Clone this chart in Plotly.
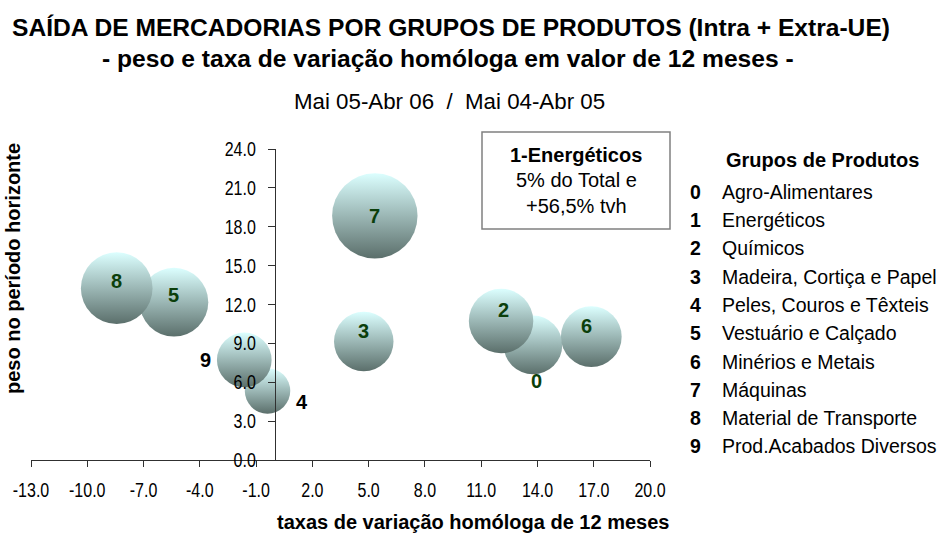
import plotly.graph_objects as go

# ---- data ----
grupos = ["0", "1", "2", "3", "4", "5", "6", "7", "8", "9"]
nomes = ["Agro-Alimentares", "Energéticos", "Químicos", "Madeira, Cortiça e Papel",
         "Peles, Couros e Têxteis", "Vestuário e Calçado", "Minérios e Metais",
         "Máquinas", "Material de Transporte", "Prod.Acabados Diversos"]
tvh = [13.76, 56.5, 12.06, 4.74, -0.39, -5.38, 16.87, 5.33, -8.43, -1.63]
peso = [8.88, 5.0, 10.73, 9.14, 5.33, 12.18, 9.52, 18.84, 13.26, 7.72]
x_ticks = [-13, -10, -7, -4, -1, 2, 5, 8, 11, 14, 17, 20]
x_tick_labels = ["-13.0", "-10.0", "-7.0", "-4.0", "-1.0", "2.0", "5.0", "8.0",
                 "11.0", "14.0", "17.0", "20.0"]
y_ticks = [0, 3, 6, 9, 12, 15, 18, 21, 24]
y_tick_labels = ["0.0", "3.0", "6.0", "9.0", "12.0", "15.0", "18.0", "21.0", "24.0"]

# ---- styling / layout constants ----
W, H = 941, 535
L, R, T, B = 31, 291, 149, 75
PW, PH = W - L - R, H - T - B

def px(xp):
    return (xp - L) / PW

def py(yp):
    return (H - B - yp) / PH

# label offsets in pixels (dx right, dy down) and colours, per group
lab_dx = [4, 0, 2, 0, 34, 0, -5, 0, 0, -39]
lab_dy = [36, 0, -11, -11, 11, -7, -11, 0, -7, 0]
lab_col = ["#0b3f0b", None, "#0b3f0b", "#0b3f0b", "#000000", "#0b3f0b",
           "#0b3f0b", "#0b3f0b", "#0b3f0b", "#000000"]

SANS = "Liberation Sans, Arial, sans-serif"
NARROW = "Liberation Sans Narrow, Arial Narrow, Liberation Sans, Arial, sans-serif"

fig = go.Figure()
fig.add_trace(go.Scatter(
    x=tvh, y=peso, mode="markers",
    marker=dict(size=peso, sizemode="area", sizeref=1 / (2 * 9.84 ** 2),
                color="#dcffff", line=dict(width=0),
                gradient=dict(type="vertical", color="#5b6f6b"),
                opacity=1),
    cliponaxis=True, hoverinfo="skip", showlegend=False,
))

annotations = []
for i, g in enumerate(grupos):
    if lab_col[i] is None:
        continue
    annotations.append(dict(
        x=tvh[i], y=peso[i], xref="x", yref="y", text="<b>%s</b>" % g,
        showarrow=False, xshift=lab_dx[i], yshift=-lab_dy[i],
        font=dict(family=SANS, size=20, color=lab_col[i]),
        xanchor="center", yanchor="middle"))

# titles
annotations += [
    dict(x=px(451), y=py(28), xref="paper", yref="paper", showarrow=False,
         text="<b>SAÍDA DE MERCADORIAS POR GRUPOS DE PRODUTOS (Intra + Extra-UE)</b>",
         font=dict(family=SANS, size=24.6, color="#000000"), xanchor="center", yanchor="middle"),
    dict(x=px(448), y=py(58), xref="paper", yref="paper", showarrow=False,
         text="<b>- peso e taxa de variação homóloga em valor de 12 meses -</b>",
         font=dict(family=SANS, size=24.6, color="#000000"), xanchor="center", yanchor="middle"),
    dict(x=px(449), y=py(102), xref="paper", yref="paper", showarrow=False,
         text="Mai 05-Abr 06\u00a0\u00a0/\u00a0\u00a0Mai 04-Abr 05",
         font=dict(family=SANS, size=22.3, color="#000000"), xanchor="center", yanchor="middle"),
    dict(x=px(473), y=py(522), xref="paper", yref="paper", showarrow=False,
         text="<b>taxas de variação homóloga de 12 meses</b>",
         font=dict(family=SANS, size=20, color="#000000"), xanchor="center", yanchor="middle"),
    dict(x=px(13), y=py(269), xref="paper", yref="paper", showarrow=False, textangle=-90,
         text="<b>peso no período horizonte</b>",
         font=dict(family=SANS, size=20, color="#000000"), xanchor="center", yanchor="middle"),
]

# info box for group 1
box_lines = ["<b>1-Energéticos</b>", "5% do Total e", "+56,5% tvh"]
box_y = [155, 180, 206]
for t, yy in zip(box_lines, box_y):
    annotations.append(dict(x=px(576), y=py(yy), xref="paper", yref="paper", showarrow=False,
                            text=t, font=dict(family=SANS, size=20, color="#000000"),
                            xanchor="center", yanchor="middle"))

# legend
annotations.append(dict(x=px(822), y=py(160), xref="paper", yref="paper", showarrow=False,
                        text="<b>Grupos de Produtos</b>",
                        font=dict(family=SANS, size=20, color="#000000"),
                        xanchor="center", yanchor="middle"))
for i, (g, n) in enumerate(zip(grupos, nomes)):
    yy = 191.7 + i * 28.3
    annotations.append(dict(x=px(695), y=py(yy), xref="paper", yref="paper", showarrow=False,
                            text="<b>%s</b>" % g, font=dict(family=SANS, size=19.5, color="#000000"),
                            xanchor="center", yanchor="middle"))
    annotations.append(dict(x=px(720), y=py(yy), xref="paper", yref="paper", showarrow=False,
                            text=n, font=dict(family=SANS, size=19.5, color="#000000"),
                            xanchor="left", yanchor="middle"))

shapes = [dict(type="rect", xref="paper", yref="paper",
               x0=px(482), x1=px(670), y0=py(229), y1=py(132),
               line=dict(color="#808080", width=1.5), fillcolor="rgba(0,0,0,0)")]

fig.update_layout(
    width=W, height=H,
    margin=dict(l=L, r=R, t=T, b=B, pad=0, autoexpand=False),
    paper_bgcolor="white", plot_bgcolor="white",
    annotations=annotations, shapes=shapes,
    xaxis=dict(range=[-13, 20], tickvals=x_ticks, ticktext=x_tick_labels,
               showgrid=False, zeroline=False, showline=True, linecolor="#303030", linewidth=1,
               ticks="outside", ticklen=6, tickcolor="#303030", tickwidth=1,
               tickfont=dict(family=NARROW, size=20, color="#000000"),
               ticklabelstandoff=6, fixedrange=True, automargin=False),
    yaxis=dict(range=[0, 24], tickvals=y_ticks, ticktext=y_tick_labels,
               anchor="free", position=13 / 33,
               showgrid=False, zeroline=False, showline=True, linecolor="#303030", linewidth=1,
               ticks="outside", ticklen=7, tickcolor="#303030", tickwidth=1,
               tickfont=dict(family=NARROW, size=20, color="#000000"),
               ticklabelstandoff=8, fixedrange=True, automargin=False),
)

post = """
document.documentElement.style.margin='0';
document.body.style.margin='0';
document.body.style.padding='0';
document.body.style.overflow='hidden';
try {
  document.querySelectorAll('g.xtick text, g.ytick text').forEach(function(t){
    var w = t.getComputedTextLength();
    if (w > 0) {
      t.setAttribute('textLength', (w * 0.8).toFixed(2));
      t.setAttribute('lengthAdjust', 'spacingAndGlyphs');
    }
  });
} catch (e) {}
"""

fig.write_html("out.html", post_script=post,
               config={"displayModeBar": False, "staticPlot": False})
